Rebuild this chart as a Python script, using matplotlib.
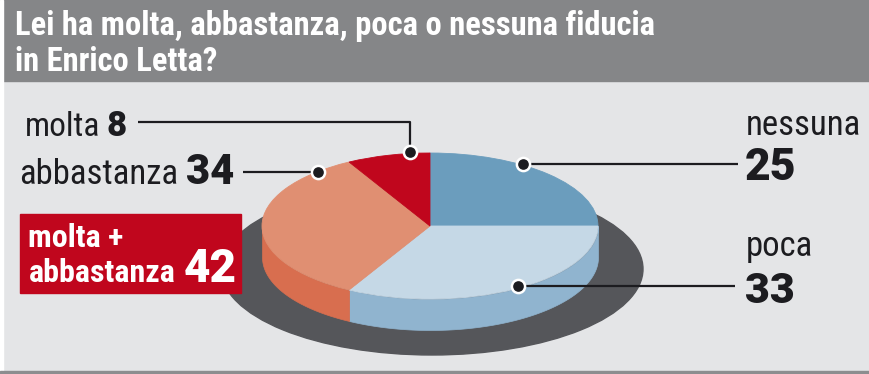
import matplotlib
matplotlib.use('Agg')
import matplotlib.pyplot as plt
from matplotlib import font_manager as fm
from matplotlib.patches import Rectangle, Ellipse
import numpy as np

# data
labels = ['nessuna', 'poca', 'abbastanza', 'molta']
values = [25, 33, 34, 8]
top_colors = ['#6b9dbd', '#c5d8e6', '#e08f72', '#c0061d']
side_colors = ['#5a88a8', '#90b4cf', '#d86e4f', '#9e0518']
combined_label = 'molta +\nabbastanza'
combined_value = values[2] + values[3]
title = 'Lei ha molta, abbastanza, poca o nessuna fiducia\nin Enrico Letta?'

# pick a narrow font if there is one
avail = {(f.name, f.stretch) for f in fm.fontManager.ttflist}
names = {n for n, s in avail}
font = None
for fam in ['Roboto Condensed', 'Liberation Sans Narrow', 'Open Sans Condensed',
            'Noto Sans Condensed', 'DejaVu Sans Condensed']:
    if fam in names:
        font = dict(family=fam)
        break
if font is None:
    if ('DejaVu Sans', 'condensed') in avail:
        font = dict(family='DejaVu Sans', stretch='condensed')
    else:
        font = dict(family='Roboto')
numfont = dict(family='Roboto', fontweight='heavy')

W, H = 870, 374
fig = plt.figure(figsize=(W / 100, H / 100), dpi=100)


def pixel_axes(rect=(0, 0, 1, 1)):
    a = fig.add_axes(rect)
    a.set_xlim(0, W)
    a.set_ylim(H, 0)
    a.axis('off')
    return a


ax = pixel_axes()
ax.add_patch(Rectangle((0, 0), W, H, color='#e4e5e7', zorder=0))
ax.add_patch(Rectangle((0, 0), W, 81, color='#858688', zorder=1))
ax.add_patch(Rectangle((0, 0), 3, H, color='white', zorder=2))
ax.add_patch(Rectangle((0, 371), W, 3, color='#8c8d8f', zorder=2))

ax.text(15, 35, title.split('\n')[0], color='white', fontsize=23.5, fontweight='bold',
        va='baseline', ha='left', zorder=3, **font)
ax.text(15, 71, title.split('\n')[1], color='white', fontsize=23.5, fontweight='bold',
        va='baseline', ha='left', zorder=3, **font)

# shadow under the pie
ax.add_patch(Ellipse((432, 269), 422, 172, color='#55565a', zorder=1))

# pie (top ellipse: centre 430,226 rx 168 ry 73, depth 31 px)
rx, ry, depth = 168, 73, 31
d = depth / ry
pax = fig.add_axes([(430 - rx) / W, (H - (226 + ry + depth)) / H,
                    2 * rx / W, (2 * ry + depth) / H])
pax.pie(values, startangle=90, counterclock=False, colors=top_colors,
        radius=1, center=(0, 0), wedgeprops=dict(linewidth=0.6, zorder=2))
for w, c in zip(pax.patches, top_colors):
    w.set_edgecolor(c)

cum = np.concatenate([[0], np.cumsum(values)]) / sum(values) * 360
for i in range(len(values)):
    start = 90 - cum[i]
    end = 90 - cum[i + 1]
    lo = end % 360
    hi = lo + (start - end)
    for off in (0, -360):
        a = max(lo + off, 180)
        b = min(hi + off, 360)
        if b > a:
            t = np.radians(np.linspace(a, b, 200))
            pax.fill_between(np.cos(t), np.sin(t) - d, np.sin(t),
                             color=side_colors[i], lw=0.5, zorder=1)
pax.set_aspect('auto')
pax.set_xlim(-1, 1)
pax.set_ylim(-1 - d, 1)
pax.axis('off')

# overlay: leader lines, dots, labels
ox = pixel_axes()
ox.patch.set_visible(False)
ink = '#1c1c20'
lines = {
    'molta': ([410, 410, 138], [152, 122, 122]),
    'abbastanza': ([318, 243], [172, 172]),
    'nessuna': ([523, 738], [164, 164]),
    'poca': ([518, 735], [286, 286]),
}
for k, (xs, ys) in lines.items():
    ox.plot(xs, ys, color=ink, lw=1.6, zorder=5, solid_capstyle='butt')
    ox.plot(xs[0], ys[0], 'o', ms=9.5, mfc=ink, mec='white', mew=1.8, zorder=6)

# labels on the left
ox.text(100, 136, 'molta', fontsize=24, color=ink, ha='right', va='baseline', **font)
ox.text(107, 136, str(values[3]), fontsize=25, color=ink,
        ha='left', va='baseline', **numfont)
ox.text(178, 184, 'abbastanza', fontsize=25, color=ink, ha='right', va='baseline', **font)
ox.text(186, 184, str(values[2]), fontsize=30, color=ink,
        ha='left', va='baseline', **numfont)

# red box
ox.add_patch(Rectangle((20, 214), 221, 79, color='#c0061d', zorder=4))
ox.text(28, 247, combined_label.split('\n')[0], fontsize=23, fontweight='bold',
        color='white', ha='left', va='baseline', zorder=5, **font)
ox.text(176, 282, combined_label.split('\n')[1], fontsize=23, fontweight='bold',
        color='white', ha='right', va='baseline', zorder=5, **font)
ox.text(184, 282, str(combined_value), fontsize=33, color='white',
        ha='left', va='baseline', zorder=5, **numfont)

# labels on the right
ox.text(746, 135, 'nessuna', fontsize=25, color=ink, ha='left', va='baseline', **font)
ox.text(745, 180, str(values[0]), fontsize=32, color=ink,
        ha='left', va='baseline', **numfont)
ox.text(746, 256, 'poca', fontsize=25, color=ink, ha='left', va='baseline', **font)
ox.text(745, 303, str(values[1]), fontsize=31, color=ink,
        ha='left', va='baseline', **numfont)

fig.savefig('out.png', dpi=100)
